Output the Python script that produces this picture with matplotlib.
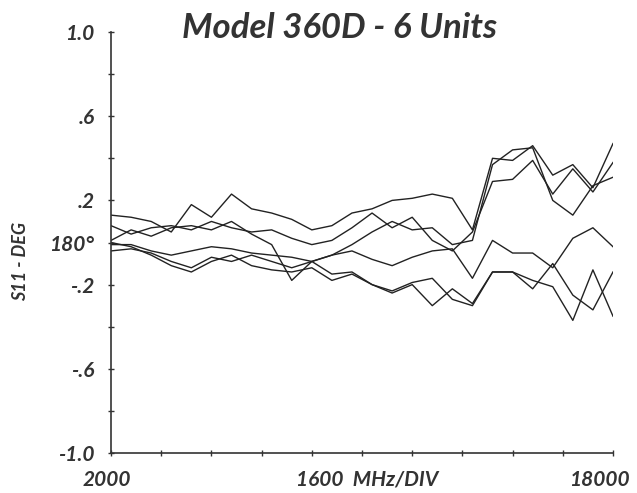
import matplotlib
matplotlib.use("Agg")
import matplotlib.pyplot as plt

# frequency points (MHz)
freq = [2000, 2640, 3280, 3920, 4560, 5200, 5840, 6480, 7120, 7760, 8400, 9040, 9680,
        10320, 10960, 11600, 12240, 12880, 13520, 14160, 14800, 15440, 16080, 16720, 17360, 18000]

# S11 phase, six units
unit1 = [0.13, 0.12, 0.10, 0.05, 0.18, 0.12, 0.23, 0.16, 0.14, 0.11, 0.06, 0.08, 0.14,
         0.16, 0.20, 0.21, 0.23, 0.21, 0.06, 0.40, 0.39, 0.46, 0.32, 0.37, 0.26, 0.47]
unit2 = [0.08, 0.04, 0.07, 0.08, 0.06, 0.10, 0.07, 0.05, 0.06, 0.02, -0.01, 0.01, 0.07,
         0.14, 0.07, 0.12, 0.01, -0.04, 0.05, 0.29, 0.30, 0.39, 0.23, 0.35, 0.24, 0.38]
unit3 = [0.01, 0.06, 0.03, 0.07, 0.08, 0.06, 0.10, 0.04, -0.01, -0.18, -0.09, -0.06, -0.01,
         0.05, 0.10, 0.06, 0.07, -0.01, 0.01, 0.37, 0.44, 0.45, 0.20, 0.13, 0.27, 0.31]
unit4 = [-0.01, -0.01, -0.04, -0.06, -0.04, -0.02, -0.03, -0.05, -0.06, -0.07, -0.09, -0.06, -0.04,
         -0.08, -0.11, -0.07, -0.04, -0.03, -0.17, 0.01, -0.05, -0.05, -0.12, 0.02, 0.07, -0.02]
unit5 = [-0.04, -0.03, -0.05, -0.09, -0.12, -0.07, -0.09, -0.06, -0.09, -0.12, -0.09, -0.15, -0.14,
         -0.20, -0.23, -0.19, -0.17, -0.27, -0.30, -0.14, -0.14, -0.22, -0.10, -0.25, -0.32, -0.14]
unit6 = [0.00, -0.02, -0.06, -0.11, -0.14, -0.09, -0.06, -0.11, -0.13, -0.14, -0.12, -0.18, -0.15,
         -0.20, -0.24, -0.20, -0.30, -0.22, -0.29, -0.14, -0.14, -0.18, -0.21, -0.37, -0.13, -0.35]

yticks = [-1.0, -0.8, -0.6, -0.4, -0.2, 0.0, 0.2, 0.4, 0.6, 0.8, 1.0]
ytick_labels = ["-1.0", "", "-.6", "", "-.2", "180°", ".2", "", ".6", "", "1.0"]
xticks = [2000, 3600, 5200, 6800, 8400, 10000, 11600, 13200, 14800, 16400, 18000]

font = dict(family="Lato", style="italic", weight="bold", color="#333333")

fig = plt.figure(figsize=(6.37, 4.93), dpi=100)
ax = fig.add_axes([0.1743, 0.0811, 0.788, 0.854])

for u in [unit1, unit2, unit3, unit4, unit5, unit6]:
    ax.plot(freq, u, color="#222222", lw=1.0)

ax.set_xlim(2000, 18000)
ax.set_ylim(-1.0, 1.0)
for s in ["top", "right"]:
    ax.spines[s].set_visible(False)
for s in ["left", "bottom"]:
    ax.spines[s].set_color("#333333")
    ax.spines[s].set_linewidth(1.2)

ax.set_yticks(yticks)
ax.set_yticklabels(ytick_labels, **font, fontsize=15)
ax.set_xticks(xticks)
ax.set_xticklabels([])
ax.tick_params(direction="inout", length=4, width=1.0, color="#333333", pad=10)

# x labels drawn by hand like the original
ax.text(-0.008, -0.04, "2000", transform=ax.transAxes, ha="center", va="top", fontsize=15, **font)
ax.text(0.51, -0.04, "1600  MHz/DIV", transform=ax.transAxes, ha="center", va="top", fontsize=15, **font)
ax.text(1.033, -0.04, "18000", transform=ax.transAxes, ha="right", va="top", fontsize=15, **font)

ax.text(-0.18, 0.456, "S11 - DEG", transform=ax.transAxes, rotation=90, ha="center", va="center",
        fontsize=13, **font)
fig.text(0.533, 0.943, "Model 360D - 6 Units", ha="center", va="center", fontsize=25, **font)

fig.savefig("out.png", dpi=100)
